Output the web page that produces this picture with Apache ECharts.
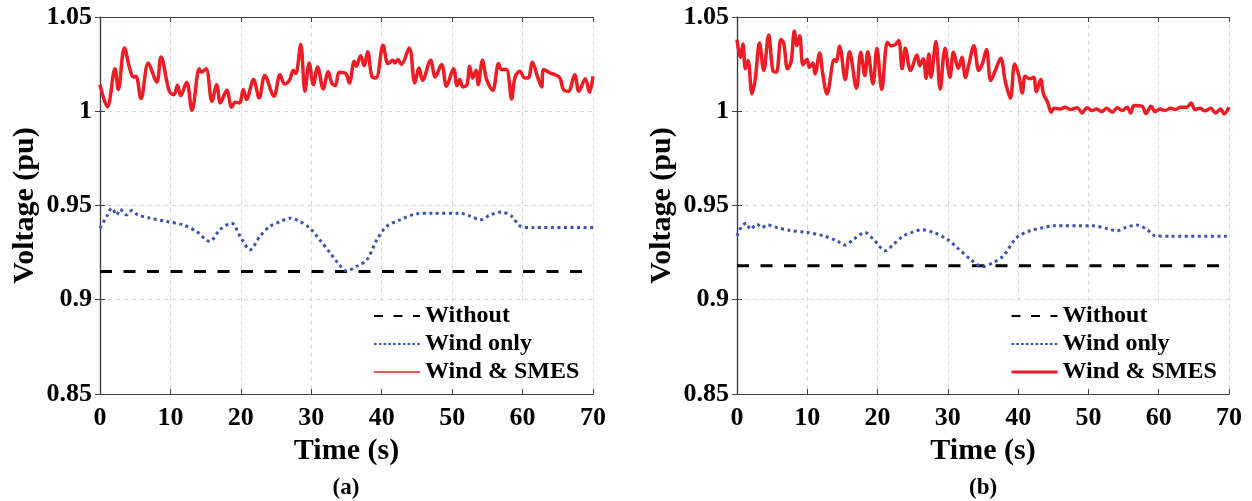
<!DOCTYPE html>
<html>
<head>
<meta charset="utf-8">
<script src="https://cdn.jsdelivr.net/npm/echarts@6/dist/echarts.min.js"></script>
<style>html,body{margin:0;padding:0;background:#fff}#c{width:1252px;height:501px}</style>
</head>
<body>
<div id="c"></div>
<script>
// ---- data ----
const xTicks = [0, 10, 20, 30, 40, 50, 60, 70];
const yTicks = [0.85, 0.9, 0.95, 1, 1.05];
const seriesNames = ['Without', 'Wind only', 'Wind & SMES'];
const panelLabels = ['(a)', '(b)'];

const withoutA = [[0, 0.915], [70, 0.915]];
const withoutB = [[0, 0.918], [70, 0.918]];

const windA = [[0,0.938],[0.95,0.9442],[1.66,0.9486],[2.37,0.945],[2.84,0.948],[3.8,0.945],[4.5,0.9473],[5.4,0.945],[7.1,0.9433],[9.5,0.9415],[11.8,0.9397],[13.7,0.9362],[15.6,0.9309],[17.0,0.9371],[18.7,0.9406],[19.9,0.9336],[21.3,0.9265],[22.7,0.9336],[24.1,0.9389],[25.6,0.9415],[27.0,0.9433],[28.4,0.9415],[29.8,0.938],[31.2,0.9318],[32.7,0.9247],[33.8,0.9194],[35.0,0.9153],[36.4,0.9176],[37.9,0.9212],[39.3,0.9318],[40.7,0.9389],[42.6,0.9424],[45.0,0.9456],[47.3,0.9459],[51.1,0.9459],[52.5,0.9445],[54.0,0.9424],[55.4,0.945],[57.0,0.9465],[58.5,0.9442],[59.6,0.9392],[61.5,0.9383],[70,0.9383]];

const windB = [[0,0.9339],[0.71,0.9392],[1.33,0.9406],[1.9,0.9374],[2.85,0.9401],[3.56,0.9383],[4.27,0.9397],[5.7,0.9383],[7.6,0.9367],[10.0,0.9357],[12.3,0.9339],[14.2,0.9313],[15.4,0.929],[16.6,0.9321],[18.2,0.9357],[19.4,0.9321],[21.1,0.926],[22.3,0.9295],[23.7,0.9339],[25.1,0.936],[26.3,0.9371],[28.0,0.9357],[29.9,0.9321],[31.3,0.9277],[33.2,0.9215],[34.9,0.9176],[36.5,0.9198],[37.9,0.9233],[39.8,0.933],[41.7,0.9366],[43.6,0.9383],[45.1,0.9392],[50.7,0.9392],[52.6,0.9378],[54.1,0.9366],[55.3,0.9383],[56.9,0.9396],[58.3,0.9374],[59.5,0.9339],[61.7,0.9337],[70,0.9337]];

const smesA = [[0,1.0141],[1.04,1.0023],[2.13,1.0225],[2.6,1.0115],[3.46,1.0336],[4.26,1.0221],[4.73,1.0182],[5.1,1.0186],[5.82,1.0067],[6.86,1.0256],[8.05,1.0154],[8.66,1.0288],[9.84,1.0106],[10.5,1.0088],[11.0,1.0138],[11.45,1.0083],[12.3,1.0154],[13.06,1.0005],[14.1,1.0225],[14.4,1.0207],[15.05,1.0225],[15.9,1.0053],[16.57,1.0141],[17.1,1.0044],[18.0,1.0111],[18.7,1.0021],[19.2,1.0048],[19.8,1.0044],[20.35,1.0115],[20.8,1.0062],[21.8,1.0168],[22.6,1.0071],[23.4,1.0189],[24.7,1.008],[25.56,1.0194],[26.2,1.0145],[26.9,1.0164],[27.45,1.0217],[27.8,1.02],[28.5,1.0354],[29.1,1.0106],[29.7,1.0256],[30.3,1.0141],[30.9,1.0235],[31.7,1.0118],[32.4,1.0209],[32.9,1.015],[33.4,1.0136],[34.0,1.0207],[34.9,1.02],[35.4,1.015],[36.1,1.0265],[36.4,1.0239],[37.0,1.0295],[37.5,1.0242],[38.0,1.0315],[38.6,1.0186],[39.2,1.0177],[40.2,1.035],[40.9,1.0253],[41.6,1.027],[41.9,1.0256],[42.3,1.0274],[42.8,1.0248],[43.9,1.0336],[44.7,1.015],[45.3,1.023],[45.8,1.0164],[46.95,1.027],[47.6,1.0182],[48.5,1.0248],[49.2,1.0133],[50.2,1.0225],[50.7,1.0136],[51.1,1.0168],[51.5,1.0129],[52.1,1.0141],[52.5,1.0239],[52.9,1.0177],[53.4,1.0217],[53.7,1.0141],[54.3,1.027],[54.9,1.0168],[55.75,1.0111],[56.6,1.0253],[57.0,1.0221],[57.7,1.0221],[58.45,1.0065],[58.9,1.0177],[59.6,1.0212],[60.3,1.0177],[60.8,1.0177],[61.4,1.026],[62.1,1.0186],[62.7,1.0129],[63.0,1.0221],[63.9,1.0203],[64.6,1.0194],[65.3,1.0177],[65.8,1.0115],[66.5,1.0106],[67.4,1.0194],[68.0,1.0106],[68.9,1.0172],[69.5,1.0101],[70,1.0186]];

const smesB = [[0,1.038],[0.47,1.0286],[0.85,1.0357],[1.19,1.0225],[1.57,1.0269],[2.13,1.0092],[2.6,1.0172],[3.2,1.0362],[3.8,1.0216],[4.5,1.0405],[5.1,1.0216],[5.6,1.0207],[6.26,1.038],[6.64,1.0362],[7.2,1.0225],[7.7,1.0263],[8.16,1.0424],[8.54,1.0348],[8.92,1.0401],[9.4,1.0246],[9.96,1.0274],[10.3,1.0233],[10.8,1.0256],[11.1,1.0198],[11.76,1.0309],[12.2,1.0198],[12.8,1.0092],[13.85,1.0274],[14.1,1.0263],[14.6,1.0345],[15.4,1.0168],[16.0,1.0316],[17.0,1.0122],[17.6,1.0313],[18.2,1.0189],[18.6,1.0316],[19.35,1.0145],[19.9,1.0334],[20.6,1.0115],[21.4,1.0366],[21.9,1.0348],[22.5,1.0352],[23.0,1.0375],[23.5,1.0225],[23.95,1.0334],[24.7,1.0216],[25.6,1.0299],[26.0,1.0242],[26.5,1.0278],[26.9,1.0175],[27.3,1.0304],[27.6,1.018],[28.3,1.037],[28.9,1.0118],[29.6,1.0334],[30.3,1.018],[30.8,1.0313],[31.5,1.0228],[32.0,1.0286],[32.5,1.018],[33.0,1.0251],[33.7,1.0348],[34.4,1.0216],[34.9,1.0251],[35.5,1.0327],[36.1,1.0163],[36.8,1.0221],[37.5,1.0281],[38.2,1.0154],[38.9,1.0069],[39.5,1.0251],[40.1,1.0189],[40.6,1.0097],[41.0,1.0186],[41.7,1.0172],[42.2,1.018],[42.6,1.0104],[43.2,1.0168],[43.6,1.0092],[44.2,1.0048],[44.7,0.9995],[45.1,1.0016],[46.0,1.0012],[46.7,1.0021],[47.4,1.0009],[48.4,1.0019],[49.1,0.9991],[49.8,1.0019],[50.5,1.0004],[51.2,1.0012],[51.9,0.9998],[52.6,1.0016],[53.4,0.9995],[54.1,1.0019],[54.8,1.0004],[55.5,1.0021],[56.0,0.9991],[56.5,1.003],[57.6,1.0027],[58.2,0.9988],[58.9,1.0027],[59.5,0.9998],[60.2,1.0012],[60.9,1.0004],[61.7,1.0016],[62.4,1.0009],[63.1,1.0021],[64.0,1.0021],[64.6,1.0044],[65.2,1.0009],[65.9,1.0016],[66.6,1.0002],[67.4,1.0016],[68.1,0.9991],[68.8,1.0012],[69.3,0.9986],[70,1.0021]];

// ---- styling / layout ----
const FONT = 'Liberation Serif';
const AXC = '#404040';
const RED = '#EE1C24';
const BLUE = '#3A52B0';
const grids = [
  {left: 100, top: 17, width: 493, height: 377},
  {left: 737, top: 17, width: 492, height: 377}
];
const xMin = xTicks[0], xMax = xTicks[xTicks.length - 1], xInt = xTicks[1] - xTicks[0];
const yMin = yTicks[0], yMax = yTicks[yTicks.length - 1], yInt = 0.05;

const xAxes = [], yAxes = [], series = [], legends = [], graphics = [];
grids.forEach((g, i) => {
  xAxes.push({
    gridIndex: i, type: 'value', min: xMin, max: xMax, interval: xInt, position: 'bottom',
    name: 'Time (s)', nameLocation: 'middle', nameGap: 34,
    nameTextStyle: {fontFamily: FONT, fontWeight: 'bold', fontSize: 30, color: '#000'},
    axisLine: {show: true, lineStyle: {color: AXC, width: 1.2}},
    axisTick: {show: true, inside: true, length: 5, lineStyle: {color: AXC}},
    axisLabel: {fontFamily: FONT, fontWeight: 'bold', fontSize: 26, color: '#000', margin: 11},
    splitLine: {show: true, lineStyle: {color: '#d6d6d6', type: [4, 4], width: 1}}
  });
  xAxes.push({
    gridIndex: i, type: 'value', min: xMin, max: xMax, interval: xInt, position: 'top',
    axisLine: {show: true, lineStyle: {color: AXC, width: 1.2}},
    axisTick: {show: true, inside: true, length: 5, lineStyle: {color: AXC}},
    axisLabel: {show: false}, splitLine: {show: false}
  });
  yAxes.push({
    gridIndex: i, type: 'value', min: yMin, max: yMax, interval: yInt, position: 'left',
    name: 'Voltage (pu)', nameLocation: 'middle', nameGap: 60,
    nameTextStyle: {fontFamily: FONT, fontWeight: 'bold', fontSize: 30, color: '#000'},
    axisLine: {show: true, lineStyle: {color: AXC, width: 1.2}},
    axisTick: {show: true, inside: true, length: 5, lineStyle: {color: AXC}},
    axisLabel: {fontFamily: FONT, fontWeight: 'bold', fontSize: 26, color: '#000', margin: 8,
      formatter: v => String(+v.toFixed(2))},
    splitLine: {show: true, lineStyle: {color: '#d6d6d6', type: [4, 4], width: 1}}
  });
  yAxes.push({
    gridIndex: i, type: 'value', min: yMin, max: yMax, interval: yInt, position: 'right',
    axisLine: {show: true, lineStyle: {color: AXC, width: 1.2}},
    axisTick: {show: true, inside: true, length: 5, lineStyle: {color: AXC}},
    axisLabel: {show: false}, splitLine: {show: false}
  });
  graphics.push({
    type: 'text', left: g.left + g.width / 2 - 14, top: 477,
    style: {text: panelLabels[i], font: 'bold 23px "Liberation Serif"', fill: '#000'}
  });
  const hidden = {color: 'rgba(0,0,0,0)', borderColor: 'rgba(0,0,0,0)', borderWidth: 0, opacity: 0};
  legends.push({
    show: true,
    orient: 'vertical', left: g.left + 267, top: g.top + 284,
    padding: [3, 8, 5, 6],
    backgroundColor: '#ffffff', itemWidth: 46, itemHeight: 14, itemGap: 4,
    itemStyle: hidden,
    textStyle: {fontFamily: FONT, fontWeight: 'bold', fontSize: 24, color: '#000'},
    data: [
      {name: seriesNames[0], itemStyle: hidden, lineStyle: {type: [9, 10.5]}},
      {name: seriesNames[1], itemStyle: hidden, lineStyle: {type: [2.6, 2.2]}},
      {name: seriesNames[2], itemStyle: hidden, lineStyle: {width: i === 0 ? 1.5 : 3}}
    ],
    selectedMode: false
  });
});

const lineCommon = {type: 'line', showSymbol: false, symbol: 'none', silent: true};
[[withoutA, windA, smesA], [withoutB, windB, smesB]].forEach((sets, i) => {
  series.push(Object.assign({}, lineCommon, {
    name: seriesNames[0], xAxisIndex: 2 * i, yAxisIndex: 2 * i, data: sets[0],
    lineStyle: {color: '#000', width: 3, type: [12, 11.5]}, itemStyle: {color: '#000'}
  }));
  series.push(Object.assign({}, lineCommon, {
    name: seriesNames[1], xAxisIndex: 2 * i, yAxisIndex: 2 * i, data: sets[1], smooth: 0.3,
    lineStyle: {color: BLUE, width: 3, type: [3, 3.5], cap: 'butt'}, itemStyle: {color: BLUE}
  }));
  series.push(Object.assign({}, lineCommon, {
    name: seriesNames[2], xAxisIndex: 2 * i, yAxisIndex: 2 * i, data: sets[2], smooth: 0.35,
    lineStyle: {color: RED, width: 3.5}, itemStyle: {color: RED}
  }));
});

const chart = echarts.init(document.getElementById('c'), null, {renderer: 'canvas'});
chart.setOption({
  backgroundColor: '#fff',
  animation: false,
  grid: grids,
  xAxis: xAxes,
  yAxis: yAxes,
  legend: legends,
  series: series,
  graphic: graphics
});
</script>
</body>
</html>
